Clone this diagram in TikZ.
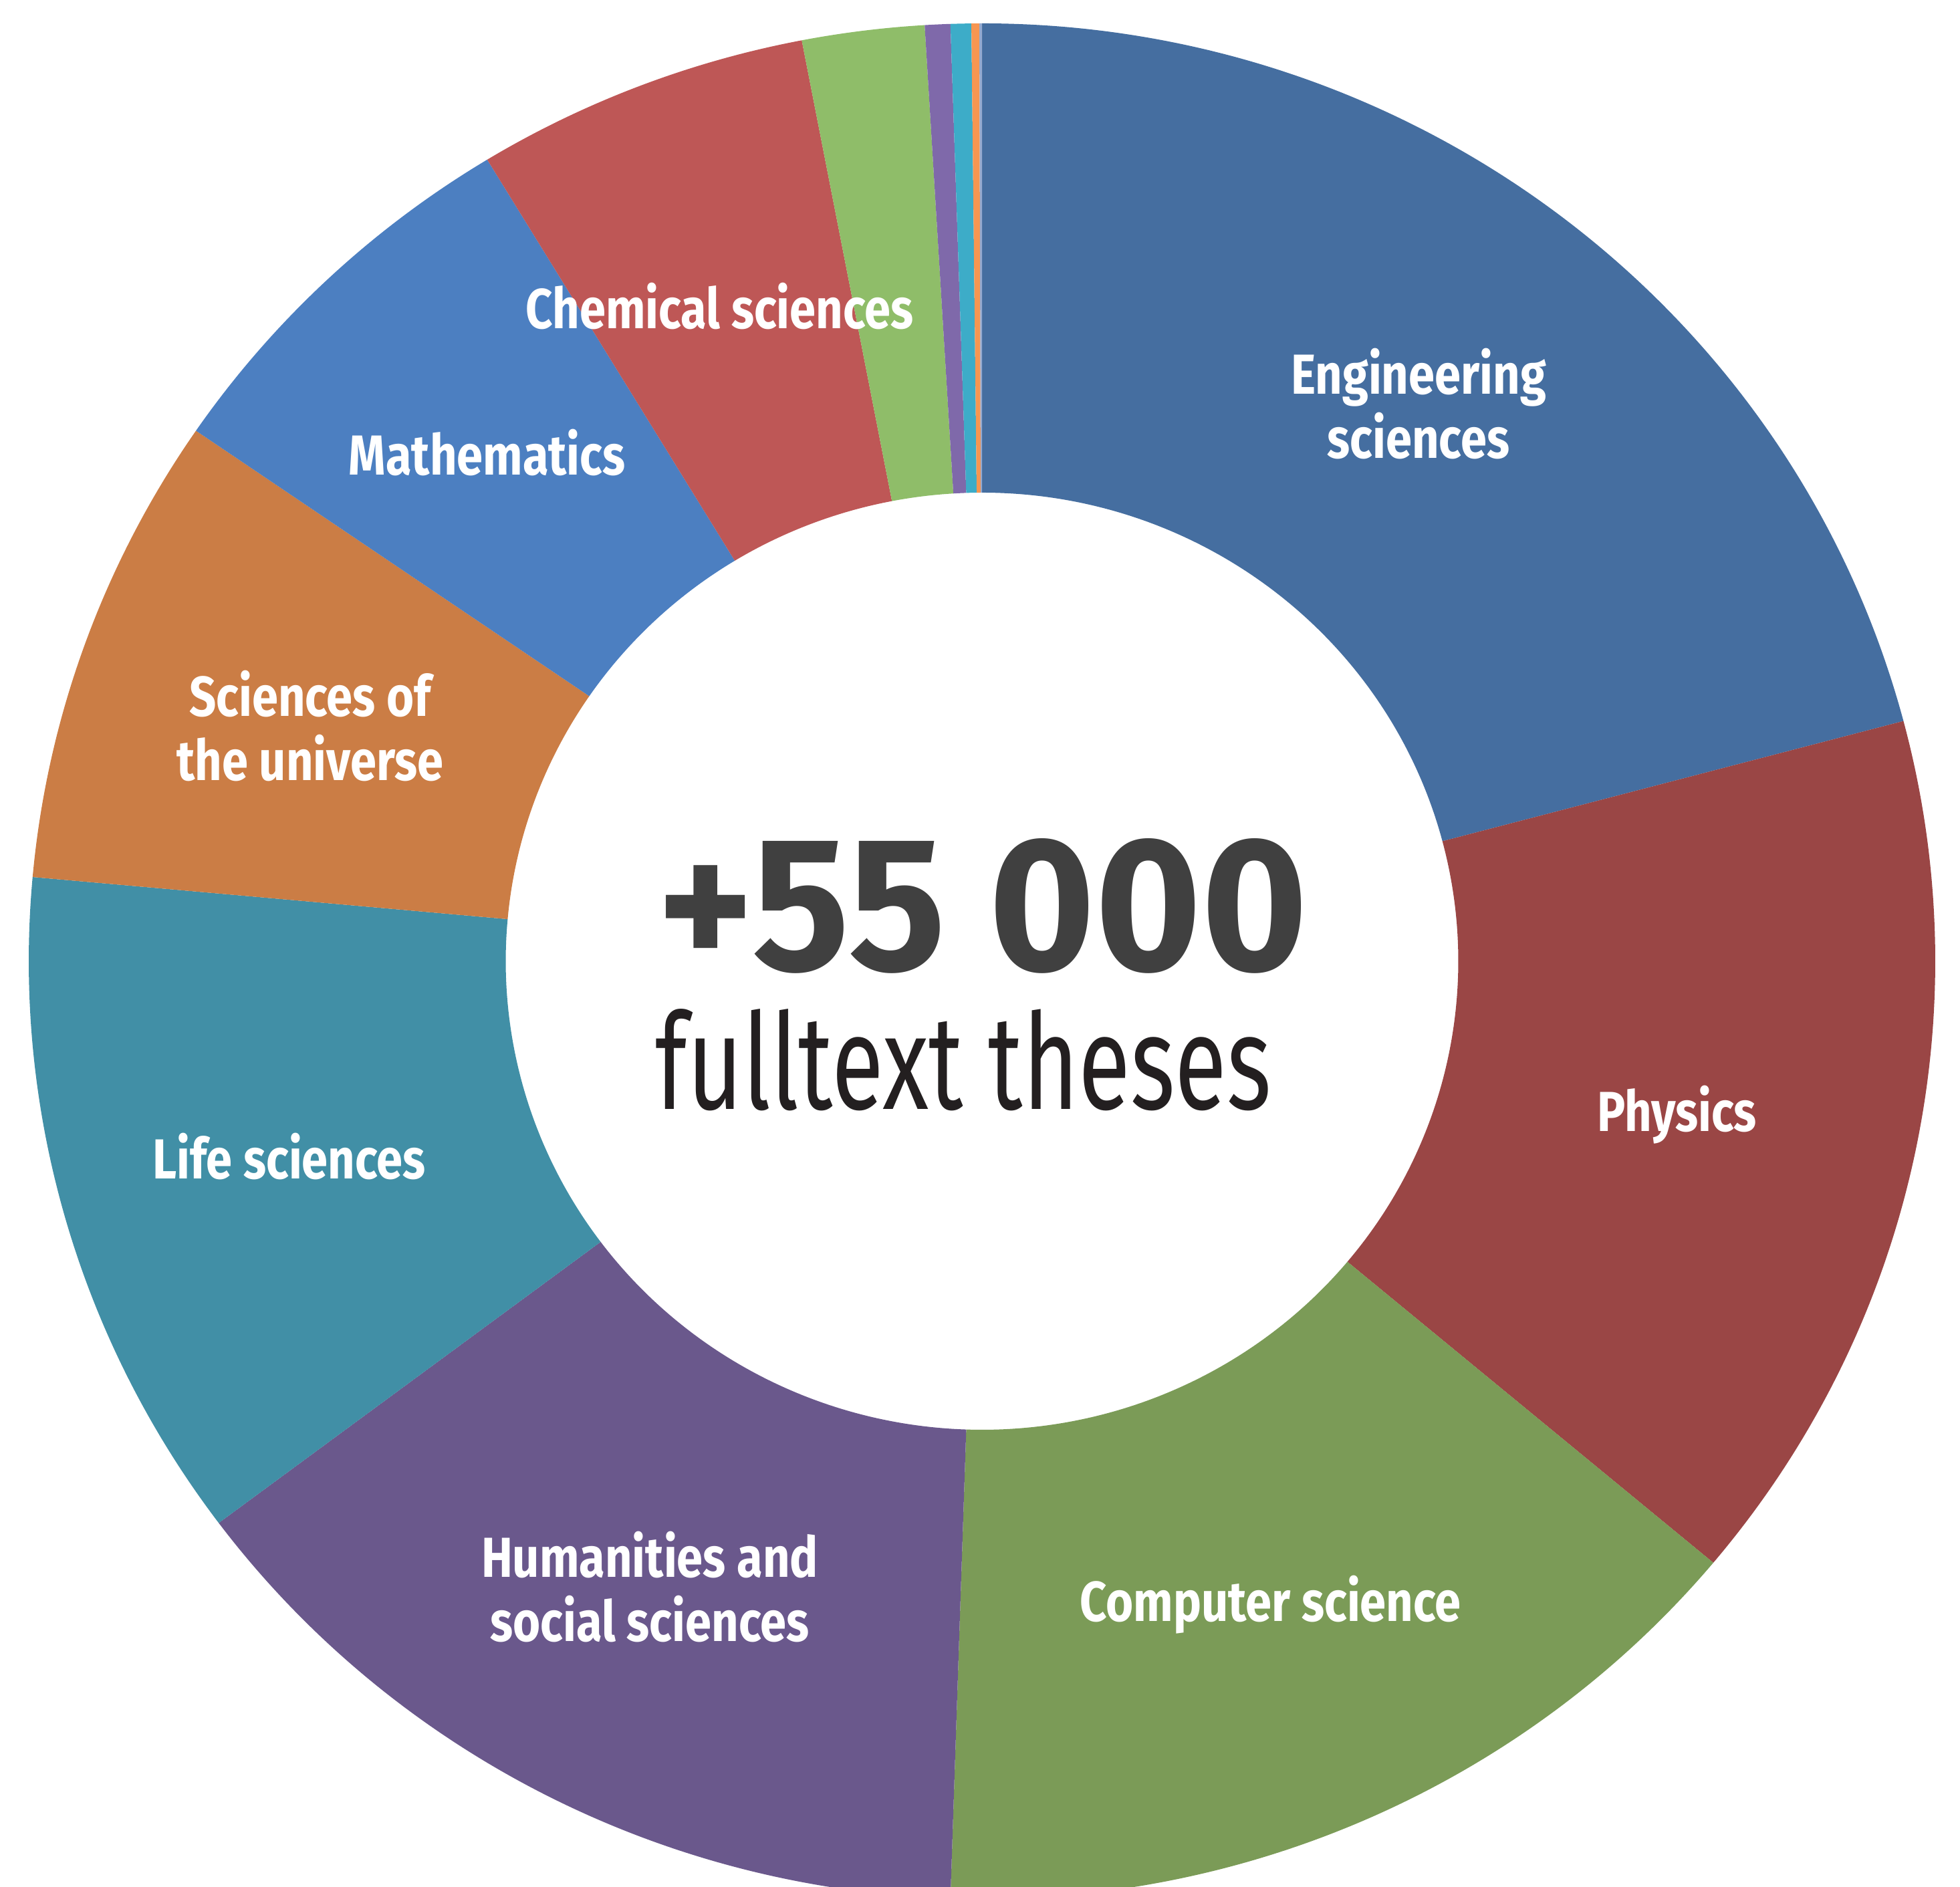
\documentclass[tikz,border=0pt]{standalone}
\usepackage{fontspec}
\usepackage{graphicx}
\setmainfont{Fira Sans}
\newfontfamily\labelfont{Fira Sans}[FakeStretch=0.835]

\definecolor{engblue}{RGB}{69,110,160}
\definecolor{physred}{RGB}{154,70,69}
\definecolor{compgreen}{RGB}{123,155,87}
\definecolor{humpurple}{RGB}{106,88,140}
\definecolor{lifeteal}{RGB}{65,143,166}
\definecolor{univorange}{RGB}{203,125,69}
\definecolor{mathblue}{RGB}{76,127,193}
\definecolor{chemred}{RGB}{190,87,86}
\definecolor{smallgreen}{RGB}{143,189,105}
\definecolor{smallpurple}{RGB}{127,105,170}
\definecolor{smallcyan}{RGB}{61,172,200}
\definecolor{smallorange}{RGB}{247,150,81}
\definecolor{smallgrey}{RGB}{148,169,207}
\definecolor{numgrey}{RGB}{64,64,64}
\definecolor{textblack}{RGB}{35,31,32}

\begin{document}
\begin{tikzpicture}[every node/.style = { align = center, text = white, font = \labelfont\bfseries\fontsize{24pt}{27.3pt}\selectfont }]
  \useasboundingbox (0,0) rectangle (29.32,28.23);
  \clip (0,0) rectangle (29.32,28.23);
  % ring, clockwise from the top
  \begin{scope}[shift = {(14.69,13.85)}, xscale = 1.0164]
    \foreach \from/\to/\col in {90/14.84/engblue, 14.84/-39.9/physred, -39.9/-91.9/compgreen,
        -91.9/-143.2/humpurple, -143.2/-185.15/lifeteal, -185.15/-214.45/univorange,
        -214.45/-238.73/mathblue, -238.73/-259.1/chemred, -259.1/-266.55/smallgreen,
        -266.55/-268.1/smallpurple, -268.1/-269.36/smallcyan, -269.36/-269.84/smallorange,
        -269.84/-270/smallgrey}
      \fill[\col] (\from:14.03) arc[start angle = \from, end angle = \to, radius = 14.03]
        -- (\to:7.01) arc[start angle = \to, end angle = \from, radius = 7.01] -- cycle;
  \end{scope}
  \node (eng) at (21.22,22.19) { Engineering \\ sciences };
  \node (phys) at (25.17,11.55) { Physics };
  \node (comp) at (19.09,4.22) { Computer science };
  \node (hum) at (9.72,4.49) { Humanities and \\ social sciences };
  \node (life) at (4.41,10.93) { Life sciences };
  \node (univ) at (4.64,17.37) { Sciences of \\ the universe };
  \node (math) at (7.37,21.46) { Mathematics };
  \node (chem) at (10.85,23.65) { Chemical sciences };
  % centre text
  \node [anchor = base, text = numgrey, font = \bfseries] (count) at (14.74,13.71) { \resizebox{9.73cm}{1.97cm}{+55 000} };
  \node [anchor = base, text = textblack, font = \normalfont] (theses) at (14.46,11.63) { \resizebox{9.21cm}{1.5cm}{fulltext theses} };
\end{tikzpicture}
\end{document}
